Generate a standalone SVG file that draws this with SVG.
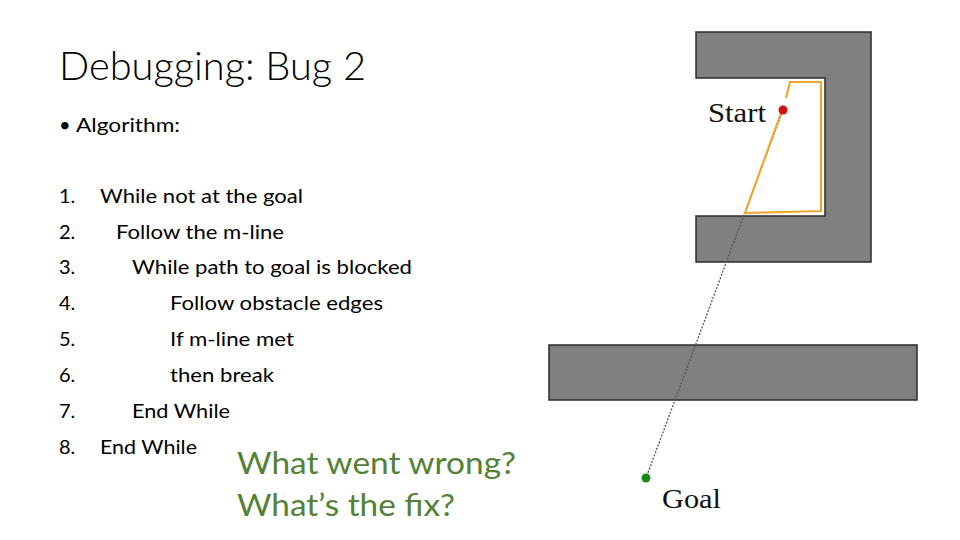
<svg xmlns="http://www.w3.org/2000/svg" width="960" height="540" viewBox="0 0 960 540">
<style>
.t{font-family:Lato,"Open Sans","Liberation Sans",sans-serif;fill:#000}
.b{font-size:20px}
.g{font-family:Lato,"Open Sans","Liberation Sans",sans-serif;font-size:30px;fill:#538135}
.s{font-family:"Liberation Serif","DejaVu Serif",serif;font-size:27px;fill:#111}
.obs{fill:#808080;stroke:#2a2a2a;stroke-width:1.5}
</style>
<rect width="960" height="540" fill="#fff"/>
<g id="title"><text class="t" x="59" y="80" font-size="40" font-weight="300" textLength="307" lengthAdjust="spacingAndGlyphs">Debugging: Bug 2</text></g>
<g id="algorithm">
<text class="t b" x="59" y="132">•</text>
<text class="t b" x="76" y="132" textLength="104" lengthAdjust="spacingAndGlyphs">Algorithm:</text>
<text class="t b" x="59" y="203">1.</text><text class="t b" x="100" y="203" textLength="203" lengthAdjust="spacingAndGlyphs">While not at the goal</text>
<text class="t b" x="59" y="239">2.</text><text class="t b" x="116" y="239" textLength="168" lengthAdjust="spacingAndGlyphs">Follow the m-line</text>
<text class="t b" x="59" y="274">3.</text><text class="t b" x="132" y="274" textLength="280" lengthAdjust="spacingAndGlyphs">While path to goal is blocked</text>
<text class="t b" x="59" y="310">4.</text><text class="t b" x="170" y="310" textLength="213" lengthAdjust="spacingAndGlyphs">Follow obstacle edges</text>
<text class="t b" x="59" y="346">5.</text><text class="t b" x="170" y="346" textLength="124" lengthAdjust="spacingAndGlyphs">If m-line met</text>
<text class="t b" x="59" y="382">6.</text><text class="t b" x="170" y="382" textLength="104" lengthAdjust="spacingAndGlyphs">then break</text>
<text class="t b" x="59" y="418">7.</text><text class="t b" x="132" y="418" textLength="98" lengthAdjust="spacingAndGlyphs">End While</text>
<text class="t b" x="59" y="454">8.</text><text class="t b" x="100" y="454" textLength="97" lengthAdjust="spacingAndGlyphs">End While</text>
</g>
<g id="questions">
<text class="g" x="237" y="474" textLength="279" lengthAdjust="spacingAndGlyphs">What went wrong?</text>
<text class="g" x="237" y="516" textLength="218" lengthAdjust="spacingAndGlyphs">What’s the fix?</text>
</g>
<g id="obstacles">
<path class="obs" d="M696,32 H871 V262 H696 V216 H825 V78 H696 Z"/>
<rect class="obs" x="549" y="345" width="368" height="55" stroke-width="2"/>
</g>
<g id="paths">
<line x1="783" y1="110" x2="646" y2="478" stroke="#555" stroke-width="1.3" stroke-dasharray="2,1.5"/>
<polyline points="781,113 745,213 821,211 821,82 790,82 786,98" fill="none" stroke="#f0a830" stroke-width="2.2" stroke-linejoin="miter"/>
</g>
<g id="start"><circle cx="783" cy="110" r="4.5" fill="#d21010"/><text class="s" x="708" y="122" textLength="58" lengthAdjust="spacingAndGlyphs">Start</text></g>
<g id="goal"><circle cx="646" cy="478" r="4.5" fill="#1a8a1a"/><text class="s" x="662" y="508" textLength="59" lengthAdjust="spacingAndGlyphs">Goal</text></g>
</svg>
